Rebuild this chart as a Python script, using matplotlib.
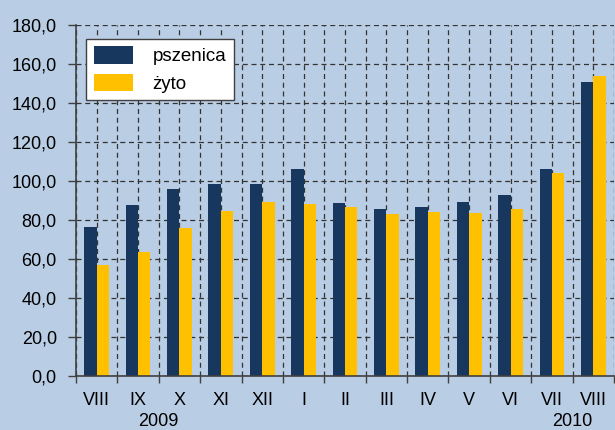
import matplotlib
matplotlib.use("Agg")
import matplotlib.pyplot as plt
import numpy as np
from matplotlib.ticker import FuncFormatter, MultipleLocator
from matplotlib.patches import Patch
from matplotlib.transforms import blended_transform_factory

plt.rcParams["font.family"] = ["Liberation Sans", "DejaVu Sans"]

# Data
months = ["VIII", "IX", "X", "XI", "XII", "I", "II", "III", "IV", "V", "VI", "VII", "VIII"]
pszenica = [76.2, 87.4, 95.6, 98.3, 98.3, 106.2, 88.4, 85.4, 86.4, 89.0, 92.5, 105.8, 150.3]
zyto = [56.6, 63.4, 75.7, 84.4, 89.0, 87.9, 86.4, 82.8, 83.8, 83.3, 85.4, 103.8, 153.7]
years = ["2009", "2010"]
year_pos = [1.5, 11.5]

BG = "#b9cde4"
NAVY = "#17375e"
YELLOW = "#ffc000"
GRID = "#333333"
FS = 13

fig = plt.figure(figsize=(6.15, 4.3), dpi=100)
fig.patch.set_facecolor(BG)
ax = fig.add_axes([76 / 615, 1 - 376 / 430, 538 / 615, 351.5 / 430])
ax.set_facecolor(BG)

x = np.arange(len(months))
w = 0.3
ax.bar(x - w / 2, pszenica, w, color=NAVY, zorder=3)
ax.bar(x + w / 2, zyto, w, color=YELLOW, zorder=3)

ax.set_xlim(-0.5, len(months) - 0.5)
ax.set_ylim(0, 180)

# y axis
ax.yaxis.set_major_locator(MultipleLocator(20))
ax.yaxis.set_major_formatter(FuncFormatter(lambda v, p: f"{v:.1f}".replace(".", ",")))
ax.tick_params(axis="y", direction="out", length=5.8, width=1, color="#404040",
               labelsize=FS, pad=8)

# x axis: boundaries as major ticks, labels at centres
ax.set_xticks(np.arange(-0.5, len(months), 1.0))
ax.set_xticklabels([])
ax.set_xticks(x, minor=True)
ax.set_xticklabels(months, minor=True)
ax.tick_params(axis="x", which="major", direction="out", length=5, width=1, color="#404040")
ax.tick_params(axis="x", which="minor", length=0, labelsize=FS, pad=11.5)

ax.grid(True, axis="y", linestyle=(0, (4, 3)), color=GRID, linewidth=0.9)
ax.grid(True, axis="x", which="both", linestyle=(0, (4, 3)), color=GRID, linewidth=0.9)
ax.set_axisbelow(True)

for s in ["top", "right"]:
    ax.spines[s].set_visible(False)
for s in ["left", "bottom"]:
    ax.spines[s].set_color("#404040")
    ax.spines[s].set_linewidth(1.2)
    ax.spines[s].set_zorder(4)

trans = blended_transform_factory(ax.transData, ax.transAxes)
for yr, xp in zip(years, year_pos):
    ax.text(xp, -45.5 / 351.5, yr, transform=trans, ha="center", va="center", fontsize=FS)

handles = [Patch(facecolor=NAVY), Patch(facecolor=YELLOW)]
leg = ax.legend(handles, ["pszenica", "żyto"], loc="upper left",
                bbox_to_anchor=(10 / 538, 1 - 14.3 / 351.5), fontsize=13.5,
                fancybox=False, framealpha=1, edgecolor="#404040",
                handlelength=2.1, handleheight=1.05, handletextpad=1.05,
                borderpad=0.4, labelspacing=0.45, borderaxespad=0)
leg.get_frame().set_linewidth(1.0)

fig.savefig("out.png", dpi=100, facecolor=BG)
